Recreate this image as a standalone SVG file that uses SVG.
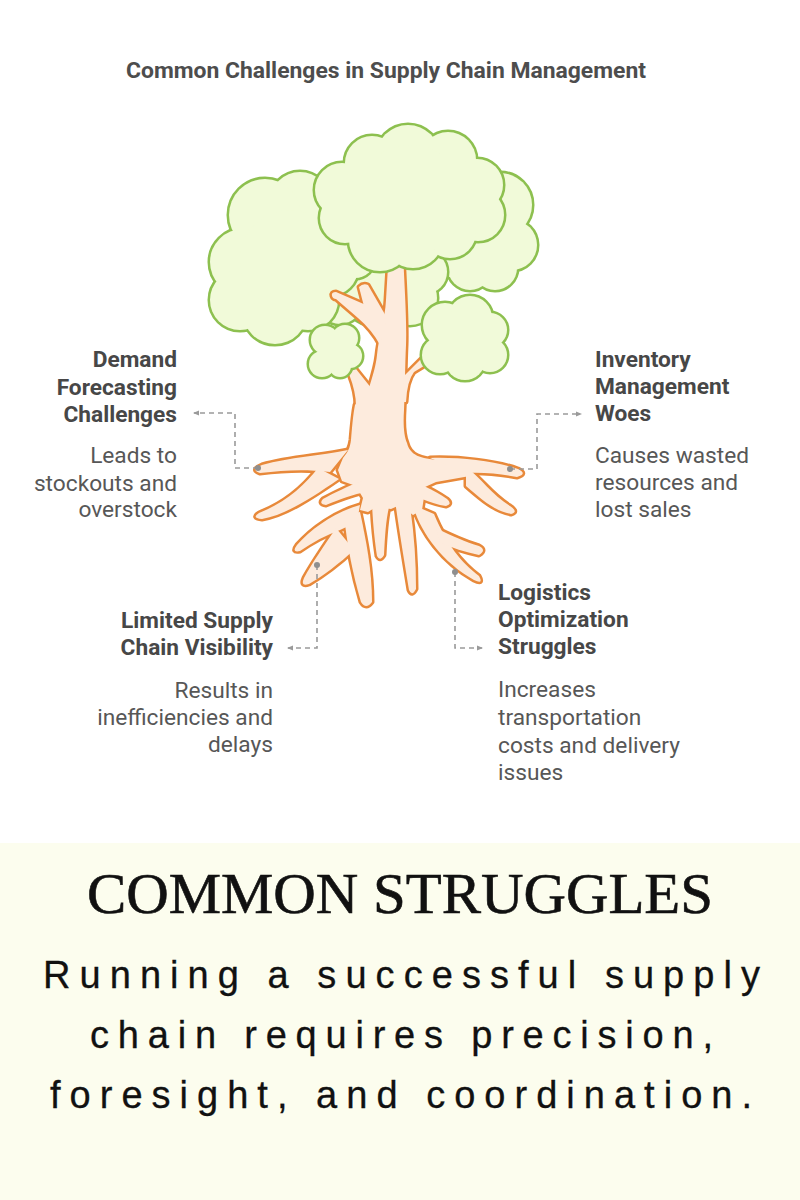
<svg xmlns="http://www.w3.org/2000/svg" xmlns:xlink="http://www.w3.org/1999/xlink" width="800" height="1200" viewBox="0 0 800 1200">
<style>
.ttl{font-family:Roboto,"Liberation Sans",sans-serif;font-weight:700;font-size:22px;fill:#4d4d4d}
.hd{font-family:Roboto,"Liberation Sans",sans-serif;font-weight:700;font-size:22.7px;fill:#474747}
.ds{font-family:Roboto,"Liberation Sans",sans-serif;font-weight:400;font-size:22.7px;fill:#575757}
.end{text-anchor:end}
.cs{fill:#8dc04f;stroke:#8dc04f;stroke-width:5}
.cf{fill:#f1fad9;stroke:none}
.ts{fill:#e8893a;stroke:#e8893a;stroke-width:5;stroke-linejoin:round}
.tf{fill:#fdebdd;stroke:none}
.con{fill:none;stroke:#9a9a9a;stroke-width:1.6;stroke-dasharray:5 4}
.dot{fill:#8f8f8f}
.big{font-family:"Liberation Serif",serif;font-size:57px;fill:#111;stroke:#111;stroke-width:0.6;text-anchor:middle}
.body{font-family:"Liberation Sans",Arial,sans-serif;font-size:38px;fill:#111;stroke:#111;stroke-width:0.3;text-anchor:middle}
</style>
<defs>
<marker id="arr" viewBox="0 0 6 6" refX="5" refY="3" markerWidth="6" markerHeight="6" markerUnits="userSpaceOnUse" orient="auto">
<path d="M0,0.5 L6,3 L0,5.5 Z" fill="#9a9a9a"/>
</marker>
<path id="t0" d="M389,250 L403,250 C404,280 407,320 406,345 C405,365 405,390 404,410 C403,425 404,436 407,443 C410,455 420,459 440,460 L470,465 L470,476 L436,482 L425,487 L424,497 L422,510 L413,515 L400,505 L391,509 L376,507 L368,512 L360,510 L363,498 L356,486 L342,481 L338,470 L343,458 C348,452 350,448 351,440 C352,428 353,415 355,405 C360,398 366,393 369,388 C373,375 376,365 377,355 C379,335 385,320 386,300 Z"/>
<path id="t1" d="M332,296 Q331,292 336,292 L366,305 L387,318 L380,345 Q372,330 358,318 L336,299 Q333,299 332,296 Z"/>
<path id="t2" d="M359,287 Q363,283 368,285 L387,318 L368,322 Z"/>
<path id="t3" d="M349,374 Q350,368 356,369 L372,389 L356,406 Q356,392 349,374 Z"/>
<path id="t4" d="M404,376 L423,357 Q431,355 432,361 L414,372 Q407,381 406,402 L403,402 Z"/>
<path id="ra" d="M348,450 C320,456 290,457 262,465 Q250,470 260,473 C285,470 305,469 330,472 Z"/>
<path id="rb" d="M318,468 C305,485 285,503 259,513 Q251,518 262,519 C285,515 310,499 339,479 Z"/>
<path id="rc" d="M362,481 C348,486 334,493 323,499 Q318,504 326,505 C341,499 354,494 366,492 Z"/>
<path id="rd" d="M360,505 C335,512 312,528 297,545 Q291,553 300,551 C313,542 326,535 340,530 L357,522 Z"/>
<path id="re" d="M336,528 C324,546 312,563 304,578 Q300,587 309,584 C323,576 340,563 354,550 Z"/>
<path id="rf" d="M344,515 C347,545 353,575 361,602 Q366,610 372,602 C372,570 366,540 360,512 Z"/>
<path id="rg" d="M372,504 C373,525 375,543 377,556 Q380,562 384,555 C385,535 386,520 389,507 Z"/>
<path id="rh" d="M395,500 C399,530 405,565 409,590 Q412,597 416,589 C416,560 414,530 409,500 Z"/>
<path id="rm" d="M413,505 C420,532 442,562 474,580 Q484,585 479,576 C461,562 447,545 434,514 Z"/>
<path id="rl" d="M436,528 C452,536 466,542 479,546 Q487,550 479,555 C465,552 452,548 440,542 Z"/>
<path id="rk" d="M424,486 C433,490 441,495 447,499 Q453,504 446,506 C438,505 430,502 422,499 Z"/>
<path id="rj" d="M466,467 C480,477 492,495 510,506 Q519,512 511,514 C495,511 482,500 466,486 Z"/>
<path id="ri" d="M430,458 C460,457 495,461 518,469 Q528,474 517,477 C500,474 485,472 466,473 Z"/>
<g id="trunkShapes">
<use href="#t0"/><use href="#t1"/><use href="#t2"/><use href="#t3"/><use href="#t4"/>
<use href="#ra"/><use href="#rb"/><use href="#rc"/><use href="#rd"/><use href="#re"/><use href="#rf"/><use href="#rg"/><use href="#rh"/><use href="#rm"/><use href="#rl"/><use href="#rk"/><use href="#rj"/><use href="#ri"/>
</g>
<g id="cR"><circle cx="500" cy="205" r="32"/><circle cx="512" cy="245" r="25"/><circle cx="495" cy="268" r="22"/><circle cx="470" cy="268" r="22"/><circle cx="450" cy="255" r="22"/><circle cx="470" cy="225" r="35"/></g>
<g id="cM"><circle cx="340" cy="302" r="22"/><circle cx="373" cy="297" r="28"/><circle cx="410" cy="298" r="27"/><circle cx="380" cy="270" r="35"/><circle cx="425" cy="272" r="22"/></g>
<g id="cL"><circle cx="300" cy="202" r="30"/><circle cx="265" cy="215" r="36"/><circle cx="243" cy="262" r="33"/><circle cx="240" cy="300" r="30"/><circle cx="275" cy="312" r="32"/><circle cx="308" cy="300" r="30"/><circle cx="330" cy="268" r="28"/><circle cx="355" cy="258" r="20"/><circle cx="290" cy="260" r="50"/></g>
<g id="cT"><circle cx="342" cy="190" r="27"/><circle cx="372" cy="163" r="27"/><circle cx="408" cy="157" r="32"/><circle cx="448" cy="160" r="28"/><circle cx="477" cy="185" r="26"/><circle cx="478" cy="215" r="26"/><circle cx="450" cy="232" r="26"/><circle cx="413" cy="238" r="30"/><circle cx="380" cy="240" r="31"/><circle cx="345" cy="218" r="25"/><circle cx="410" cy="200" r="55"/></g>
<g id="cSL"><circle cx="325" cy="340" r="14"/><circle cx="345" cy="338" r="13"/><circle cx="350" cy="356" r="12"/><circle cx="340" cy="366" r="11"/><circle cx="322" cy="364" r="13"/><circle cx="336" cy="352" r="18"/></g>
<g id="cSR"><circle cx="445" cy="325" r="22"/><circle cx="470" cy="318" r="22"/><circle cx="490" cy="330" r="17"/><circle cx="490" cy="355" r="17"/><circle cx="465" cy="360" r="20"/><circle cx="440" cy="355" r="18"/><circle cx="466" cy="340" r="32"/></g>
</defs>

<rect x="0" y="0" width="800" height="1200" fill="#ffffff"/>
<text class="ttl" x="386" y="78" text-anchor="middle" textLength="520" lengthAdjust="spacingAndGlyphs">Common Challenges in Supply Chain Management</text>

<g id="tree">
<g id="cloud-back-right"><use class="cs" href="#cR"/><use class="cf" href="#cR"/></g>
<g id="cloud-back-middle"><use class="cs" href="#cM"/><use class="cf" href="#cM"/></g>
<g id="cloud-left"><use class="cs" href="#cL"/><use class="cf" href="#cL"/></g>
<g id="trunk-roots"><use class="ts" href="#trunkShapes"/><use class="tf" href="#trunkShapes"/></g>
<g id="cloud-top"><use class="cs" href="#cT"/><use class="cf" href="#cT"/></g>
<g id="cloud-small-left"><use class="cs" href="#cSL"/><use class="cf" href="#cSL"/></g>
<g id="cloud-small-right"><use class="cs" href="#cSR"/><use class="cf" href="#cSR"/></g>
</g>

<g id="connectors">
<path class="con" d="M258,468 L235,468 L235,413 L194,413" marker-end="url(#arr)"/>
<path class="con" d="M510,469 L537,469 L537,414 L581,414" marker-end="url(#arr)"/>
<path class="con" d="M317,565 L317,648 L288,648" marker-end="url(#arr)"/>
<path class="con" d="M455,572 L455,648 L482,648" marker-end="url(#arr)"/>
<circle class="dot" cx="258" cy="468" r="3"/>
<circle class="dot" cx="510" cy="469" r="3"/>
<circle class="dot" cx="317" cy="565" r="3"/>
<circle class="dot" cx="455" cy="572" r="3"/>
</g>

<g id="node-demand">
<text class="hd end" x="177" y="367">Demand</text>
<text class="hd end" x="177" y="394.5">Forecasting</text>
<text class="hd end" x="177" y="421.5">Challenges</text>
<text class="ds end" x="177" y="463">Leads to</text>
<text class="ds end" x="177" y="490.5">stockouts and</text>
<text class="ds end" x="177" y="517">overstock</text>
</g>
<g id="node-inventory">
<text class="hd" x="595" y="367">Inventory</text>
<text class="hd" x="595" y="394">Management</text>
<text class="hd" x="595" y="421">Woes</text>
<text class="ds" x="595" y="463">Causes wasted</text>
<text class="ds" x="595" y="490">resources and</text>
<text class="ds" x="595" y="517">lost sales</text>
</g>
<g id="node-visibility">
<text class="hd end" x="273" y="628">Limited Supply</text>
<text class="hd end" x="273" y="655">Chain Visibility</text>
<text class="ds end" x="273" y="698">Results in</text>
<text class="ds end" x="273" y="725">inefficiencies and</text>
<text class="ds end" x="273" y="752">delays</text>
</g>
<g id="node-logistics">
<text class="hd" x="498" y="600">Logistics</text>
<text class="hd" x="498" y="627">Optimization</text>
<text class="hd" x="498" y="654">Struggles</text>
<text class="ds" x="498" y="697">Increases</text>
<text class="ds" x="498" y="725">transportation</text>
<text class="ds" x="498" y="753">costs and delivery</text>
<text class="ds" x="498" y="780">issues</text>
</g>

<g id="panel">
<rect x="0" y="843" width="800" height="357" fill="#fcfdee"/>
<text class="big" x="400" y="913" textLength="626" lengthAdjust="spacingAndGlyphs">COMMON STRUGGLES</text>
<text class="body" x="401.5" y="988" textLength="717" lengthAdjust="spacing">Running a successful supply</text>
<text class="body" x="401.5" y="1048" textLength="623" lengthAdjust="spacing">chain requires precision,</text>
<text class="body" x="401" y="1108" textLength="702" lengthAdjust="spacing">foresight, and coordination.</text>
</g>
</svg>
